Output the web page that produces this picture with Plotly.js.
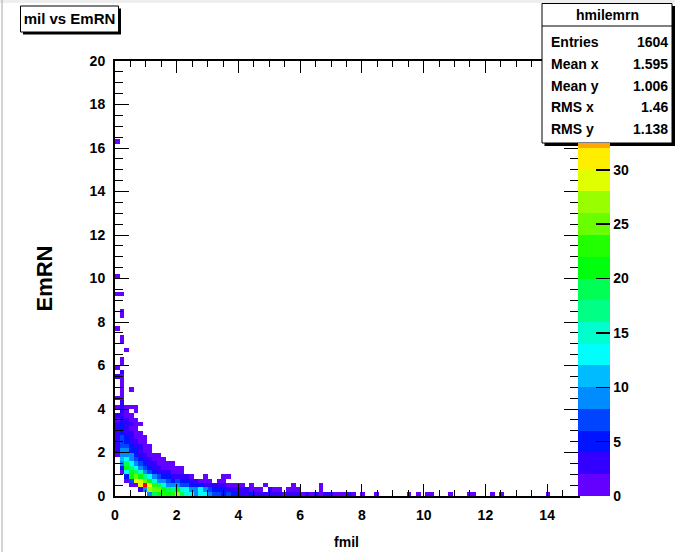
<!DOCTYPE html>
<html>
<head>
<meta charset="utf-8">
<script src="https://cdn.plot.ly/plotly-3.0.1.min.js"></script>
<style>
html, body { margin: 0; padding: 0; background: #ffffff; }
#chart { width: 675px; height: 552px; }
</style>
</head>
<body>
<div id="chart"></div>
<script>
// ---------------- data ----------------
const histTitle = 'mil vs EmRN';
const xTitle = 'fmil';
const yTitle = 'EmRN';
const xMin = 0, xMax = 15, nBinsX = 100;
const yMin = 0, yMax = 20, nBinsY = 100;

// x bin index of each filled column
const columnXBin = [0,1,2,3,4,5,6,7,8,9,10,11,12,13,14,15,16,17,18,19,20,21,22,23,24,25,26,27,28,29,30,31,32,33,34,35,36,37,38,39,40,41,42,43,44,45,46,47,48,49,50,51,53,56,63,65,67,68,72,76,77,81,83,93];
// y bin indices filled in each column
const columnYBins = [
  [9,10,11,12,13,14,15,16,17,18,20,22,27,29,38,46,50,81],
  [5,6,7,8,9,10,11,12,13,14,15,16,17,18,19,20,21,22,23,24,25,26,27,28,30,31,35,36,41,42,46],
  [3,4,5,6,7,8,9,10,11,12,13,14,15,16,17,18,19,20,33],
  [2,3,4,5,6,7,8,9,10,11,12,13,14,15,16,17,18,20,24],
  [2,3,4,5,6,7,8,9,10,11,12,13,14,15,16,17,19,20],
  [1,2,3,4,5,6,7,8,9,10,11,12,13,14,16],
  [1,2,3,4,5,6,7,8,9,10,11,12,13],
  [0,1,2,3,4,5,6,7,8,9,10,11],
  [0,1,2,3,4,5,6,7,8,9],
  [0,1,2,3,4,5,6,7,8,9],
  [0,1,2,3,4,5,6,7,8],
  [0,1,2,3,4,5,6,7],
  [0,1,2,3,4,5,6,7],
  [0,1,2,3,4,5,6],
  [0,1,2,3,4,5,6],
  [0,1,2,3,4],
  [0,1,2,3,4],
  [0,1,2,3],
  [0,1,2,3],
  [0,1,2,3,4],
  [0,1,2,3],
  [0,1,2],
  [0,1,2,3],
  [0,1,2,3,4],
  [0,1,2,4],
  [0,1,2],
  [0,1,2],
  [0,1,2],
  [0,1],
  [0,1,2],
  [0,1],
  [0,1],
  [0,2],
  [0,1],
  [0,1],
  [0,1],
  [0],
  [0,1],
  [0,1,2],
  [0,1],
  [0],[0],[0],[0],
  [0,1,2],
  [0],[0],[0],[0],[0],[0],[0],[0],[0],[0],[0],[0],[0],[0],[0],[0],[0],[0],[0]
];
// entries in those bins
const columnCounts = [
  [1,2,2,3,2,3,2,3,1,2,1,1,2,1,1,1,1,1],
  [1,4,9,11,9,8,7,6,6,5,4,4,3,3,2,2,2,1,1,1,1,1,1,2,1,1,1,1,1,1,1],
  [1,5,12,20,18,13,10,8,6,5,4,3,3,2,2,1,1,1,1],
  [1,6,20,20,17,13,10,8,5,4,3,2,2,1,2,1,1,1,1],
  [1,28,25,19,13,9,6,5,4,2,2,1,1,1,1,1,1,1],
  [3,31,30,20,14,9,6,4,3,2,2,1,1,1,1],
  [10,38,25,16,10,6,4,3,2,1,1,1,1],
  [10,26,30,20,12,7,5,3,2,1,1,1],
  [18,25,22,14,8,5,3,2,1,1],
  [20,24,18,10,6,3,2,1,1,1],
  [22,20,14,8,4,3,1,1,1],
  [20,18,9,6,4,2,1,1],
  [22,16,8,5,3,1,1,1],
  [27,20,9,6,3,1,1],
  [18,14,7,5,2,1,1],
  [15,12,6,4,2],
  [12,10,5,3,1],
  [10,9,4,2],
  [13,12,4,1],
  [12,10,3,1,1],
  [8,6,3,1],
  [7,5,2],
  [6,5,2,1],
  [5,4,2,1,1],
  [6,3,1,1],
  [4,3,1],
  [5,2,1],
  [3,2,1],
  [3,2],
  [4,1,1],
  [2,1],
  [3,1],
  [2,1],
  [2,2],
  [3,1],
  [2,1],
  [1],
  [2,1],
  [3,1,1],
  [2,1],
  [1],[2],[1],[2],
  [1,1,1],
  [2],[2],[1],[1],[1],[2],[1],[1],[1],[1],[1],[1],[1],[1],[1],[1],[1],[1],[1]
];

const zMax = 40;           // top of the palette axis
const nLevels = 20;        // colour contours
const colorbarTicks = [0, 5, 10, 15, 20, 25, 30];
const xTickStep = 2, yTickStep = 2, minorStep = 0.5;

const statsName = 'hmilemrn';
const statsLabels = ['Entries', 'Mean x', 'Mean y', 'RMS x', 'RMS y'];
const statsValues = ['1604', '1.595', '1.006', '1.46', '1.138'];

// ---------------- build the histogram matrix ----------------
const dx = (xMax - xMin) / nBinsX;
const dy = (yMax - yMin) / nBinsY;
const z = [];
for (let j = 0; j < nBinsY; j++) z.push(new Array(nBinsX).fill(null));
columnXBin.forEach((ix, c) => {
  columnYBins[c].forEach((iy, k) => { z[iy][ix] = columnCounts[c][k]; });
});

// ---------------- ROOT "pretty palette" ----------------
function hueColor(h) {
  const hp = h / 60;
  const x = 1 - Math.abs((hp % 2) - 1);
  let r, g, b;
  if (hp < 1) { r = 1; g = x; b = 0; }
  else if (hp < 2) { r = x; g = 1; b = 0; }
  else if (hp < 3) { r = 0; g = 1; b = x; }
  else if (hp < 4) { r = 0; g = x; b = 1; }
  else if (hp < 5) { r = x; g = 0; b = 1; }
  else { r = 1; g = 0; b = x; }
  return 'rgb(' + Math.round(r * 255) + ',' + Math.round(g * 255) + ',' + Math.round(b * 255) + ')';
}
function levelColor(k) {
  const p = Math.floor((k + 0.99) * 50 / nLevels);
  return hueColor(Math.max(0, 280 - (p + 1) * 5.6));
}
const zLow = -1e-6;
function bandScale(top) {
  const step = zMax / nLevels;
  const span = top - zLow;
  const cs = [];
  for (let k = 0; k < nLevels; k++) {
    const a = k * step, b = (k + 1) * step;
    if (a >= top) break;
    const c = levelColor(k);
    cs.push([Math.max(0, (a - zLow) / span), c]);
    cs.push([Math.min(1, (Math.min(b, top) - zLow) / span), c]);
  }
  cs[0][0] = 0;
  cs[cs.length - 1][0] = 1;
  return cs;
}

// ---------------- geometry helpers (layout only) ----------------
const W = 675, H = 552;
const L = 115, R = 578, T = 61, B = 496;
const px = v => (v - L) / (R - L);
const py = v => (B - v) / (B - T);
const boxTop = 143;                                   // stats box hides the palette top
const cbTop = zMax * (B - boxTop) / (B - T);

const face = '"Liberation Sans", Arial, sans-serif';
const tf = { family: face, size: 14, color: '#000', weight: 'bold' };
const sf = { family: face, size: 14, color: '#000', weight: 'bold' };

// ---------------- traces ----------------
const heat = {
  type: 'heatmap',
  z: z,
  x0: xMin + dx / 2, dx: dx,
  y0: yMin + dy / 2, dy: dy,
  zmin: zLow, zmax: zMax,
  colorscale: bandScale(zMax),
  showscale: false,
  hoverinfo: 'skip',
  zsmooth: false
};
const paletteKey = {
  type: 'scatter', mode: 'markers',
  x: [-100], y: [-100],
  hoverinfo: 'skip', showlegend: false,
  marker: {
    color: [0], cmin: zLow, cmax: cbTop,
    colorscale: bandScale(cbTop),
    showscale: true,
    colorbar: {
      x: 1, xref: 'paper', xanchor: 'left', xpad: 0,
      y: 0, yref: 'paper', yanchor: 'bottom', ypad: 0,
      len: B - boxTop, lenmode: 'pixels',
      thickness: 32, thicknessmode: 'pixels',
      outlinewidth: 0, borderwidth: 0,
      tickmode: 'array', tickvals: colorbarTicks,
      ticks: 'inside', ticklen: 14, tickwidth: 1.5, tickcolor: '#000',
      tickfont: tf
    }
  }
};

// ---------------- decorations ----------------
const shapes = [];
function rect(x0, y0, x1, y1, fill, line, lw) {
  shapes.push({ type: 'rect', xref: 'paper', yref: 'paper', layer: 'above',
    x0: px(x0), x1: px(x1), y0: py(y1), y1: py(y0),
    fillcolor: fill, line: { color: line || fill, width: lw === undefined ? 0 : lw } });
}
function hline(x0, x1, y, color, w) {
  shapes.push({ type: 'line', xref: 'paper', yref: 'paper', layer: 'above',
    x0: px(x0), x1: px(x1), y0: py(y), y1: py(y), line: { color: color, width: w } });
}
function vline(x, y0, y1, color, w) {
  shapes.push({ type: 'line', xref: 'paper', yref: 'paper', layer: 'above',
    x0: px(x), x1: px(x), y0: py(y0), y1: py(y1), line: { color: color, width: w } });
}
// canvas frame
rect(0, 0, W, 3, '#eeeeee');
vline(2, 0, H, '#a8a8a8', 1);
// title pave
rect(23, 8.5, 121, 34.5, '#000000');
rect(20.5, 6, 118.5, 32, '#ffffff', '#000000', 1);
// stats pave
rect(544.5, 6, 675, 146, '#000000');
rect(542, 3.5, 672, 143, '#ffffff', '#000000', 1);
hline(542, 672, 26, '#000000', 1);

const annotations = [];
annotations.push({ xref: 'paper', yref: 'paper', x: px(607), y: py(15),
  xanchor: 'center', yanchor: 'middle', showarrow: false, text: statsName, font: sf });
statsLabels.forEach((lab, i) => {
  const yy = 42 + i * 21.8;
  annotations.push({ xref: 'paper', yref: 'paper', x: px(549), y: py(yy),
    xanchor: 'left', yanchor: 'middle', showarrow: false, text: lab, font: sf });
  annotations.push({ xref: 'paper', yref: 'paper', x: px(670), y: py(yy),
    xanchor: 'right', yanchor: 'middle', showarrow: false, text: statsValues[i], font: sf });
});

const axisCommon = {
  ticks: 'inside', tickcolor: '#000', tickwidth: 1,
  showline: true, linecolor: '#000', linewidth: 2, mirror: 'ticks',
  showgrid: false, zeroline: false, tickfont: tf, fixedrange: true
};

const layout = {
  width: W, height: H,
  margin: { l: L, r: W - R, t: T, b: H - B, pad: 0 },
  paper_bgcolor: '#ffffff', plot_bgcolor: '#ffffff',
  showlegend: false,
  title: { text: histTitle, xref: 'container', yref: 'container',
    x: 69.5 / W, xanchor: 'center', y: 1 - 19 / H, yanchor: 'middle',
    font: { family: face, size: 15, color: '#000', weight: 'bold' } },
  xaxis: Object.assign({}, axisCommon, {
    range: [xMin, xMax], tick0: 0, dtick: xTickStep, ticklen: 12,
    ticklabelstandoff: 5,
    minor: { tick0: 0, dtick: minorStep, ticks: 'inside', ticklen: 6, tickwidth: 1, tickcolor: '#000', showgrid: false },
    title: { text: xTitle, standoff: 15, font: { family: face, size: 14, color: '#000', weight: 'bold' } }
  }),
  yaxis: Object.assign({}, axisCommon, {
    range: [yMin, yMax], tick0: 0, dtick: yTickStep, ticklen: 14,
    ticklabelstandoff: 5,
    minor: { tick0: 0, dtick: minorStep, ticks: 'inside', ticklen: 8, tickwidth: 1, tickcolor: '#000', showgrid: false },
    title: { text: yTitle, standoff: 31, font: { family: face, size: 22, color: '#000', weight: 'bold' } }
  }),
  shapes: shapes,
  annotations: annotations
};

Plotly.newPlot('chart', [heat, paletteKey], layout, { staticPlot: true, displayModeBar: false });
</script>
</body>
</html>
